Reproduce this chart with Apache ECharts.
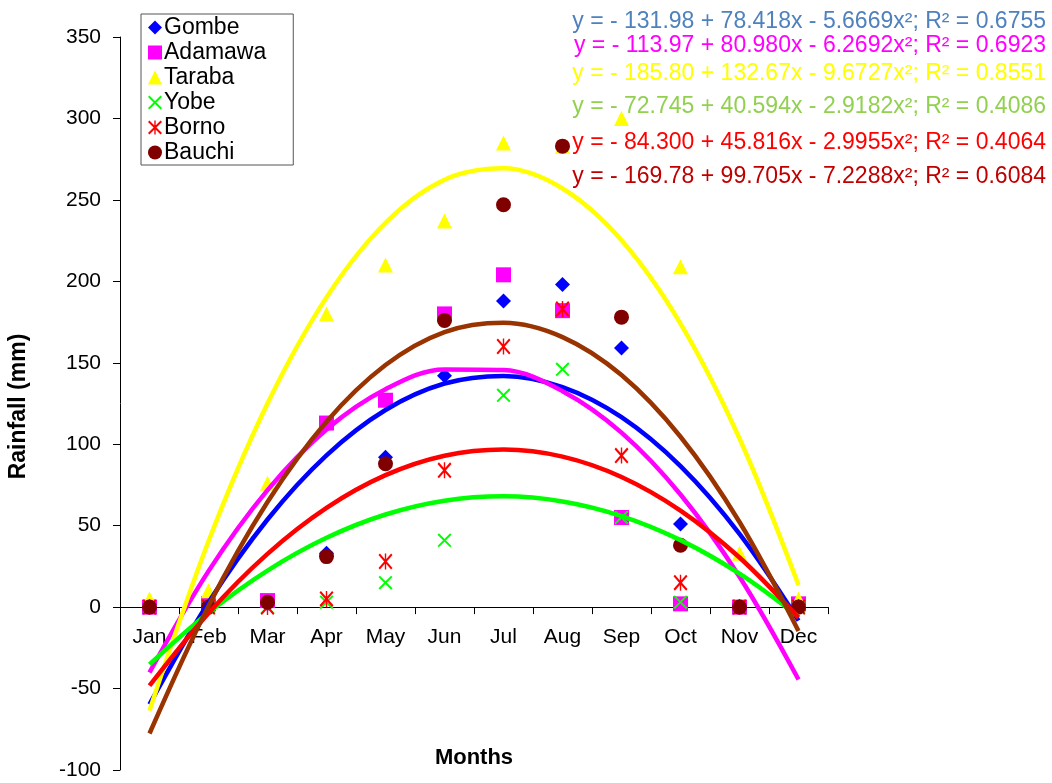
<!DOCTYPE html>
<html>
<head>
<meta charset="utf-8">
<script src="https://cdn.jsdelivr.net/npm/echarts@6/dist/echarts.min.js"></script>
<style>
  html, body { margin: 0; padding: 0; background: #fff; }
  #chart { width: 1052px; height: 783px; }
</style>
</head>
<body>
<div id="chart"></div>
<script>
// months and rainfall (mm) per state
const months = ['Jan', 'Feb', 'Mar', 'Apr', 'May', 'Jun', 'Jul', 'Aug', 'Sep', 'Oct', 'Nov', 'Dec'];
const gombe   = [0, 0, 2, 33, 92, 142, 188, 198, 159, 51, 0, 0];
const adamawa = [0, 2, 4, 113, 127, 180, 204, 182, 55, 2, 0, 2];
const taraba  = [5, 10, 76, 180, 210, 237, 285, 283, 300, 209, 33, 5];
const yobe    = [0, 0, 0, 3, 15, 41, 130, 146, 55, 3, 0, 0];
const borno   = [0, 0, 0, 5, 28, 84, 160, 183, 93, 15, 0, 0];
const bauchi  = [0, 0, 3, 31, 88, 176, 247, 283, 178, 38, 0, 0];
const yTicks = { min: -100, max: 350, step: 50 };

// trendline equations as printed on the chart
const equations = [
    'y = - 131.98 + 78.418x - 5.6669x²; R² = 0.6755',
    'y = - 113.97 + 80.980x - 6.2692x²; R² = 0.6923',
    'y = - 185.80 + 132.67x - 9.6727x²; R² = 0.8551',
    'y = - 72.745 + 40.594x - 2.9182x²; R² = 0.4086',
    'y = - 84.300 + 45.816x - 2.9955x²; R² = 0.4064',
    'y = - 169.78 + 99.705x - 7.2288x²; R² = 0.6084'
];

const FONT = '"Liberation Sans", Arial, sans-serif';

// marker paths for the x and star markers
const crossPath = 'path://M0,2L2,0L20,18L18,20ZM18,0L20,2L2,20L0,18Z';
const starPath = 'path://M0,2L2,0L20,18L18,20ZM18,0L20,2L2,20L0,18ZM9,0L11,0L11,20L9,20Z';

const states = [
    { name: 'Gombe',   data: gombe,   symbol: 'diamond',  size: 15, color: '#0000FF', line: '#0000FF' },
    { name: 'Adamawa', data: adamawa, symbol: 'rect',     size: 15, color: '#FF00FF', line: '#FF00FF' },
    { name: 'Taraba',  data: taraba,  symbol: 'triangle', size: 15, color: '#FFFF00', line: '#FFFF00' },
    { name: 'Yobe',    data: yobe,    symbol: crossPath,  size: 14, color: '#00FF00', line: '#00FF00' },
    { name: 'Borno',   data: borno,   symbol: starPath,   size: [14, 16], color: '#FF0000', line: '#FF0000' },
    { name: 'Bauchi',  data: bauchi,  symbol: 'circle',   size: 15, color: '#800000', line: '#993300' }
];
const eqColors = ['#4F81BD', '#FF00FF', '#FFFF00', '#92D050', '#FF0000', '#C00000'];
const eqTops = [10.5, 34.5, 62.5, 95.5, 131.5, 165.5];

// least squares 2nd order polynomial, x = 1..12
function quadFit(ys) {
    let s = [0, 0, 0, 0, 0], t = [0, 0, 0];
    ys.forEach((y, i) => {
        const x = i + 1;
        for (let k = 0; k < 5; k++) s[k] += Math.pow(x, k);
        for (let k = 0; k < 3; k++) t[k] += y * Math.pow(x, k);
    });
    const m = [[s[0], s[1], s[2], t[0]], [s[1], s[2], s[3], t[1]], [s[2], s[3], s[4], t[2]]];
    for (let c = 0; c < 3; c++) {
        for (let r = c + 1; r < 3; r++) {
            const f = m[r][c] / m[c][c];
            for (let k = c; k < 4; k++) m[r][k] -= f * m[c][k];
        }
    }
    const p = [0, 0, 0];
    for (let r = 2; r >= 0; r--) {
        let v = m[r][3];
        for (let k = r + 1; k < 3; k++) v -= m[r][k] * p[k];
        p[r] = v / m[r][r];
    }
    return ys.map((y, i) => p[0] + p[1] * (i + 1) + p[2] * (i + 1) * (i + 1));
}

let series = [];
states.forEach(s => {
    series.push({
        name: s.name + ' trend',
        type: 'line',
        data: quadFit(s.data),
        smooth: 0.35,
        symbol: 'none',
        lineStyle: { color: s.line, width: 4.5 },
        z: 3,
        silent: true
    });
});
states.forEach(s => {
    series.push({
        name: s.name,
        type: 'scatter',
        data: s.data,
        symbol: s.symbol,
        symbolSize: s.size,
        itemStyle: { color: s.color, opacity: 1 },
        z: 2
    });
});

// grid box, and the x axis moved up to sit on y = 0
const grid = { left: 120, right: 224, top: 37, bottom: 13 };
const plotH = 783 - grid.top - grid.bottom;
const zeroOffset = -plotH * (0 - yTicks.min) / (yTicks.max - yTicks.min);

let myChart = echarts.init(document.getElementById('chart'));

let option = {
    animation: false,
    backgroundColor: '#fff',
    textStyle: { fontFamily: FONT },
    grid: Object.assign({ containLabel: false, outerBoundsMode: 'none' }, grid),
    legend: {
        data: states.map(s => s.name),
        orient: 'vertical',
        left: 141,
        top: 14,
        padding: [2, 27, 1, 7],
        itemGap: 2,
        itemWidth: 14,
        itemHeight: 14,
        borderColor: '#555',
        borderWidth: 1,
        textStyle: { fontFamily: FONT, fontSize: 23, color: '#000', padding: [0, 0, 0, -3] }
    },
    xAxis: {
        type: 'category',
        data: months,
        boundaryGap: true,
        offset: zeroOffset,
        name: 'Months',
        nameLocation: 'middle',
        nameGap: 140,
        nameTextStyle: { fontFamily: FONT, fontSize: 22, fontWeight: 'bold', color: '#000' },
        axisLine: { onZero: false, lineStyle: { color: '#000', width: 1 } },
        axisTick: { show: true, length: 7, interval: 0, lineStyle: { color: '#000' } },
        axisLabel: { fontFamily: FONT, fontSize: 21, color: '#000', margin: 20, interval: 0 },
        splitLine: { show: false }
    },
    yAxis: {
        type: 'value',
        min: yTicks.min,
        max: yTicks.max,
        interval: yTicks.step,
        name: 'Rainfall (mm)',
        nameLocation: 'middle',
        nameGap: 90,
        nameTextStyle: { fontFamily: FONT, fontSize: 23, fontWeight: 'bold', color: '#000', padding: [0, 6, 0, 0] },
        axisLine: { show: true, lineStyle: { color: '#000', width: 1 } },
        axisTick: { show: true, length: 7, lineStyle: { color: '#000' } },
        axisLabel: { fontFamily: FONT, fontSize: 21, color: '#000', margin: 19 },
        splitLine: { show: false }
    },
    graphic: equations.map((t, i) => ({
        type: 'text',
        right: 6,
        top: eqTops[i],
        style: { text: t, fill: eqColors[i], font: '23px ' + FONT }
    })),
    series: series
};

myChart.setOption(option);
</script>
</body>
</html>
